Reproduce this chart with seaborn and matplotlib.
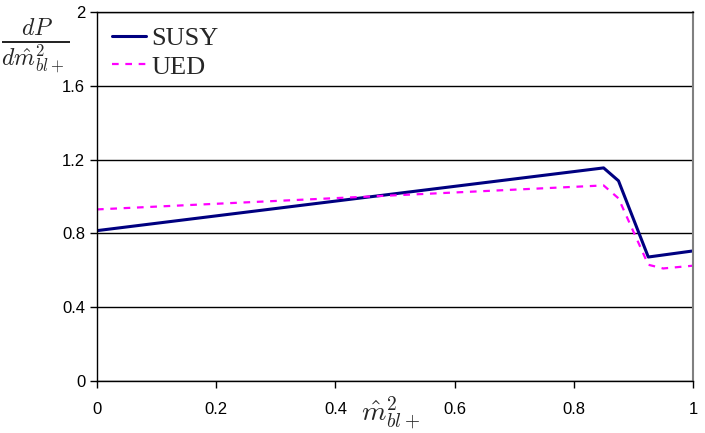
import pandas as pd
import matplotlib.pyplot as plt
import seaborn as sns

# values
susy_x = [0.0, 0.85, 0.875, 0.925, 1.0]
susy_y = [0.815, 1.155, 1.085, 0.672, 0.705]
ued_x = [0.0, 0.85, 0.875, 0.925, 0.95, 1.0]
ued_y = [0.93, 1.06, 0.99, 0.63, 0.61, 0.625]
y_ticks = [0, 0.4, 0.8, 1.2, 1.6, 2]
y_tick_labels = ["0", "0.4", "0.8", "1.2", "1.6", "2"]
x_ticks = [0, 0.2, 0.4, 0.6, 0.8, 1]
x_tick_labels = ["0", "0.2", "0.4", "0.6", "0.8", "1"]

susy = pd.DataFrame({"x": susy_x, "y": susy_y})
ued = pd.DataFrame({"x": ued_x, "y": ued_y})

sns.set_style("white")
plt.rcParams["font.family"] = ["Liberation Sans", "DejaVu Sans"]
plt.rcParams["mathtext.fontset"] = "cm"

fig = plt.figure(figsize=(7.05, 4.33), dpi=100)
ax = fig.add_axes([97 / 705, 52 / 433, 596 / 705, 369 / 433])

sns.lineplot(data=susy, x="x", y="y", ax=ax, color="#000080", linewidth=2.2, label="SUSY")
sns.lineplot(data=ued, x="x", y="y", ax=ax, color="#FF00FF", linewidth=1.6,
             linestyle=(0, (3, 3)), label="UED")

ax.set_xlim(0, 1)
ax.set_ylim(0, 2)
ax.set_yticks(y_ticks)
ax.set_yticklabels(y_tick_labels)
ax.set_xticks(x_ticks)
ax.set_xticklabels(x_tick_labels)
ax.tick_params(axis="both", direction="out", length=5, width=1, color="black",
               labelsize=12, labelcolor="black", left=True, bottom=True)
ax.tick_params(axis="x", pad=10)
ax.grid(axis="y", color="black", linewidth=1)
ax.grid(axis="x", visible=False)
ax.set_axisbelow(True)

for side in ["left", "bottom", "top"]:
    ax.spines[side].set_color("black")
    ax.spines[side].set_linewidth(1)
ax.spines["right"].set_color("#808080")
ax.spines["right"].set_linewidth(1.5)

ax.set_xlabel("")
ax.set_ylabel("")
fig.text(35 / 705, 1 - 46 / 433, r"$\frac{dP}{d\hat{m}^2_{bl+}}$", fontsize=24.5,
         ha="center", va="center")
fig.text(391 / 705, 1 - 413 / 433, r"$\hat{m}^2_{bl+}$", fontsize=20,
         ha="center", va="center")

ax.legend(loc="upper left", frameon=False, handlelength=1.3, handletextpad=0.2,
          labelspacing=0.2, borderaxespad=0.35, borderpad=0.2,
          prop={"family": "Liberation Serif", "size": 19})

plt.savefig("out.png", dpi=100)
